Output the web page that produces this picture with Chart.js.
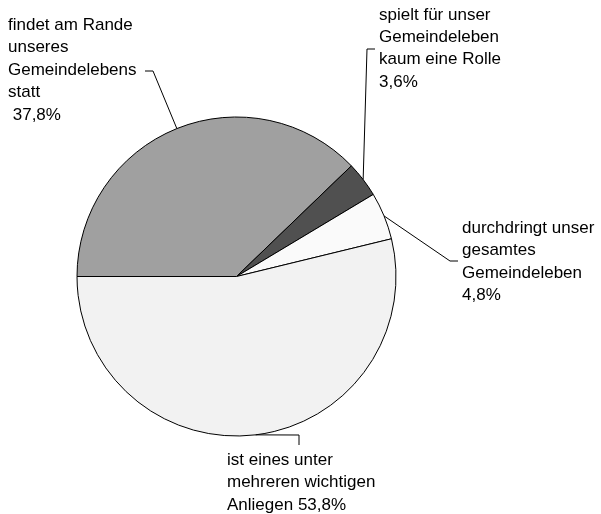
<!DOCTYPE html>
<html>
<head>
<meta charset="utf-8">
<script src="https://cdn.jsdelivr.net/npm/chart.js@4/dist/chart.umd.min.js"></script>
<style>
  html, body { margin: 0; padding: 0; background: #fff; }
  #wrap { width: 601px; height: 514px; position: relative; }
</style>
</head>
<body>
<div id="wrap"><canvas id="pie"></canvas></div>
<script>
// Daten
const labels = [
    ['findet am Rande', 'unseres', 'Gemeindelebens', 'statt'],
    ['spielt für unser', 'Gemeindeleben', 'kaum eine Rolle'],
    ['durchdringt unser', 'gesamtes', 'Gemeindeleben'],
    ['ist eines unter', 'mehreren wichtigen', 'Anliegen']
];
const values = [37.8, 3.6, 4.8, 53.8];
const valueText = [' 37,8%', '3,6%', '4,8%', '53,8%'];
const colors = ['#a0a0a0', '#505050', '#fafafa', '#f2f2f2'];

// Beschriftung: Textposition und Knick der Linie
const labelLayout = [
    { x: 8,   y: 30,  own: true,  elbow: [153, 71],  end: [145, 71] },
    { x: 379, y: 19.5, own: false, elbow: [367, 49], end: [375, 49] },
    { x: 462, y: 233, own: true,  elbow: [450, 261], end: [458, 261] },
    { x: 227, y: 465, own: false, elbow: [299, 435], end: [299, 445] }
];
const lineHeight = 22.4;

const labelPlugin = {
    id: 'pieLabels',
    afterDraw(chart) {
        const ctx = chart.ctx;
        const arcs = chart.getDatasetMeta(0).data;
        ctx.save();
        ctx.strokeStyle = '#000';
        ctx.lineWidth = 1;
        arcs.forEach((arc, i) => {
            const mid = (arc.startAngle + arc.endAngle) / 2;
            const px = arc.x + Math.cos(mid) * arc.outerRadius;
            const py = arc.y + Math.sin(mid) * arc.outerRadius;
            const lay = labelLayout[i];
            ctx.beginPath();
            ctx.moveTo(px, py);
            ctx.lineTo(lay.elbow[0], lay.elbow[1]);
            ctx.lineTo(lay.end[0], lay.end[1]);
            ctx.stroke();

            // Textzeilen
            const lines = labels[i].slice();
            if (lay.own) lines.push(valueText[i]);
            else lines[lines.length - 1] += (i === 1 ? '' : ' ' + valueText[i]);
            if (i === 1) lines.push(valueText[i]);
            ctx.fillStyle = '#000';
            ctx.font = '17px "Liberation Sans", Arial, sans-serif';
            ctx.textAlign = 'left';
            ctx.textBaseline = 'alphabetic';
            lines.forEach((t, k) => ctx.fillText(t, lay.x, lay.y + k * lineHeight));
        });
        ctx.restore();
    }
};

new Chart(document.getElementById('pie'), {
    type: 'pie',
    data: {
        labels: labels.map(l => l.join(' ')),
        datasets: [{
            data: values,
            backgroundColor: colors,
            borderColor: '#000',
            borderWidth: 1,
            borderAlign: 'center'
        }]
    },
    options: {
        responsive: true,
        maintainAspectRatio: false,
        animation: false,
        rotation: -90,
        layout: { padding: { left: 76.5, right: 204.5, top: 116.5, bottom: 77.5 } },
        plugins: {
            legend: { display: false },
            tooltip: { enabled: false }
        }
    },
    plugins: [labelPlugin]
});
</script>
</body>
</html>
